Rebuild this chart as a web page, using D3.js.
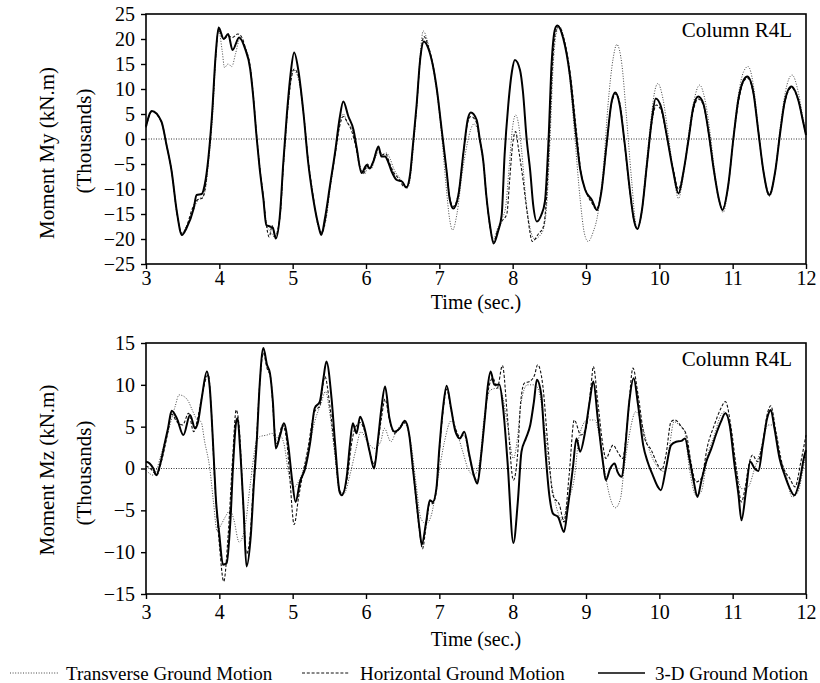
<!DOCTYPE html>
<html><head><meta charset="utf-8">
<script src="https://cdn.jsdelivr.net/npm/d3@7"></script>
<style>
body{margin:0;background:#fff;}
svg{display:block;}
text{font-family:"Liberation Serif","Times New Roman",serif;fill:#000;}
</style></head>
<body><svg id="c" width="820" height="683"></svg>
<script>
// ---------- DATA ----------
const xTicks = [3,4,5,6,7,8,9,10,11,12];
const myTicks = [-25,-20,-15,-10,-5,0,5,10,15,20,25];
const mzTicks = [-15,-10,-5,0,5,10,15];
const seriesNames = ["Transverse Ground Motion","Horizontal Ground Motion","3-D Ground Motion"];

// Moment My (thousands kN.m) vs time (s)
const myTrans = [[3.0,2.5],[3.08,5.5],[3.21,3.5],[3.28,-1.0],[3.35,-6.5],[3.42,-14.8],[3.49,-18.8],[3.55,-17.5],[3.65,-14.0],[3.72,-12.0],[3.78,-11.5],[3.82,-9.0],[3.86,-3.5],[3.91,5.0],[3.95,16.0],[3.99,21.8],[4.04,17.5],[4.07,14.3],[4.12,15.0],[4.17,14.5],[4.22,17.0],[4.28,20.0],[4.35,18.5],[4.42,14.5],[4.46,9.0],[4.51,0.5],[4.55,-5.5],[4.60,-11.5],[4.65,-17.5],[4.70,-18.5],[4.75,-19.6],[4.83,-15.5],[4.87,-6.5],[4.92,3.5],[4.97,11.0],[5.01,13.8],[5.07,12.5],[5.15,5.0],[5.21,-4.0],[5.28,-11.5],[5.35,-17.5],[5.40,-18.5],[5.45,-16.5],[5.51,-10.0],[5.58,-3.0],[5.64,3.0],[5.69,5.0],[5.75,3.1],[5.81,2.0],[5.87,-1.5],[5.93,-6.0],[5.98,-7.0],[6.03,-5.5],[6.07,-6.0],[6.12,-4.0],[6.18,-2.5],[6.23,-3.0],[6.28,-2.8],[6.33,-4.0],[6.38,-6.0],[6.46,-7.8],[6.52,-9.0],[6.57,-9.8],[6.61,-7.0],[6.65,-1.0],[6.70,8.0],[6.74,17.0],[6.78,21.6],[6.84,19.5],[6.91,14.5],[6.97,9.0],[7.03,1.0],[7.09,-9.0],[7.14,-16.0],[7.18,-18.2],[7.24,-15.0],[7.31,-7.0],[7.38,-1.0],[7.43,2.0],[7.47,3.0],[7.52,2.0],[7.56,-1.0],[7.61,-6.0],[7.65,-12.5],[7.70,-18.0],[7.74,-20.0],[7.79,-18.0],[7.85,-16.0],[7.90,-14.0],[7.95,-6.0],[8.00,2.5],[8.04,4.8],[8.08,3.0],[8.12,-2.0],[8.18,-12.0],[8.24,-18.0],[8.30,-20.0],[8.36,-19.5],[8.42,-18.0],[8.47,-12.0],[8.51,0.0],[8.55,14.0],[8.60,21.5],[8.64,22.5],[8.70,20.0],[8.78,12.0],[8.85,0.0],[8.92,-12.0],[8.98,-19.0],[9.03,-20.5],[9.10,-18.5],[9.15,-15.9],[9.24,-5.2],[9.30,6.8],[9.37,16.1],[9.42,18.9],[9.49,14.8],[9.55,4.8],[9.62,-7.9],[9.69,-17.5],[9.74,-16.5],[9.81,-7.0],[9.88,3.0],[9.93,9.0],[9.98,11.1],[10.05,8.0],[10.12,1.0],[10.19,-6.5],[10.26,-11.9],[10.33,-7.0],[10.40,1.0],[10.47,7.5],[10.55,10.8],[10.62,8.0],[10.69,1.5],[10.75,-6.0],[10.82,-12.5],[10.87,-14.7],[10.94,-9.5],[11.01,0.5],[11.08,9.0],[11.15,13.5],[11.21,14.5],[11.28,11.0],[11.35,2.0],[11.42,-6.5],[11.50,-11.5],[11.58,-6.5],[11.65,2.5],[11.72,9.5],[11.81,12.8],[11.90,9.0],[11.96,4.0],[12.0,1.0]];

const myHoriz = [[3.0,2.3],[3.08,5.5],[3.21,3.4],[3.28,-1.2],[3.35,-6.5],[3.42,-14.5],[3.49,-19.0],[3.55,-17.6],[3.63,-14.0],[3.70,-12.2],[3.77,-11.8],[3.81,-9.6],[3.85,-4.2],[3.90,4.5],[3.95,16.3],[3.99,21.8],[4.06,20.0],[4.12,20.6],[4.18,20.3],[4.25,21.0],[4.30,20.5],[4.36,18.0],[4.42,14.5],[4.46,9.2],[4.51,0.5],[4.55,-5.5],[4.60,-11.5],[4.64,-17.0],[4.68,-19.6],[4.72,-17.3],[4.76,-19.4],[4.83,-15.0],[4.87,-6.0],[4.92,4.0],[4.97,11.0],[5.02,14.0],[5.08,12.5],[5.15,4.8],[5.21,-4.0],[5.28,-11.5],[5.35,-17.5],[5.40,-18.8],[5.45,-16.0],[5.51,-9.5],[5.58,-3.0],[5.64,2.5],[5.69,4.5],[5.75,3.2],[5.80,1.8],[5.86,-1.5],[5.92,-5.8],[5.97,-6.8],[6.02,-5.0],[6.06,-5.8],[6.10,-4.3],[6.17,-2.0],[6.21,-3.2],[6.27,-3.0],[6.32,-4.8],[6.37,-6.5],[6.45,-8.0],[6.52,-9.5],[6.56,-9.5],[6.60,-7.5],[6.64,-1.5],[6.69,6.5],[6.74,16.0],[6.79,20.5],[6.85,18.5],[6.92,14.3],[6.97,9.5],[7.03,2.0],[7.10,-6.5],[7.14,-11.5],[7.19,-13.5],[7.26,-11.0],[7.33,-2.5],[7.39,3.5],[7.43,4.5],[7.50,3.5],[7.55,0.0],[7.60,-4.5],[7.64,-11.2],[7.69,-17.5],[7.74,-20.5],[7.79,-18.5],[7.85,-16.5],[7.92,-15.0],[7.96,-8.0],[8.00,-1.0],[8.04,1.5],[8.08,-2.0],[8.14,-8.0],[8.20,-15.0],[8.27,-20.5],[8.35,-19.0],[8.42,-17.5],[8.46,-12.0],[8.50,0.0],[8.54,14.0],[8.58,21.0],[8.63,22.5],[8.70,20.0],[8.79,12.5],[8.87,1.5],[8.93,-6.5],[9.00,-10.5],[9.08,-12.8],[9.14,-14.0],[9.21,-10.5],[9.28,-1.5],[9.35,7.3],[9.41,9.0],[9.47,6.5],[9.53,-1.5],[9.60,-10.8],[9.65,-16.0],[9.70,-18.0],[9.76,-14.5],[9.83,-5.5],[9.90,3.5],[9.96,6.8],[10.03,5.5],[10.10,0.5],[10.19,-6.0],[10.26,-10.0],[10.33,-6.5],[10.40,0.0],[10.46,5.5],[10.53,8.0],[10.60,6.8],[10.67,1.3],[10.74,-6.0],[10.81,-12.0],[10.86,-14.0],[10.94,-9.2],[11.01,0.0],[11.08,7.5],[11.15,11.5],[11.20,12.2],[11.28,9.3],[11.35,1.5],[11.42,-6.5],[11.50,-11.0],[11.58,-6.5],[11.65,1.5],[11.71,7.3],[11.80,10.2],[11.90,7.5],[11.96,3.5],[12.0,0.8]];

const my3D = [[3.0,2.5],[3.08,5.6],[3.21,3.5],[3.28,-1.2],[3.35,-6.5],[3.42,-14.5],[3.49,-19.2],[3.55,-17.9],[3.65,-13.9],[3.69,-11.2],[3.76,-11.0],[3.80,-9.2],[3.85,-3.9],[3.90,4.8],[3.95,16.8],[3.99,22.3],[4.06,20.0],[4.12,21.0],[4.18,17.8],[4.27,20.3],[4.35,18.1],[4.42,14.1],[4.46,8.8],[4.51,0.1],[4.55,-5.9],[4.60,-11.9],[4.64,-17.2],[4.69,-17.5],[4.73,-17.8],[4.77,-19.9],[4.83,-14.5],[4.87,-5.2],[4.92,4.8],[4.97,12.8],[5.02,17.3],[5.08,13.5],[5.15,4.8],[5.21,-4.5],[5.28,-11.9],[5.35,-17.2],[5.39,-19.2],[5.44,-15.9],[5.51,-9.2],[5.58,-2.5],[5.64,4.1],[5.69,7.5],[5.76,4.5],[5.83,1.8],[5.87,-1.5],[5.94,-6.8],[6.01,-5.2],[6.05,-5.9],[6.10,-4.5],[6.17,-1.5],[6.21,-3.5],[6.26,-3.5],[6.30,-4.5],[6.35,-6.5],[6.42,-8.2],[6.49,-8.5],[6.55,-9.7],[6.60,-7.2],[6.64,-1.2],[6.69,6.8],[6.74,16.1],[6.79,19.5],[6.85,18.1],[6.92,14.1],[6.97,9.5],[7.03,2.1],[7.10,-6.5],[7.14,-11.9],[7.19,-13.9],[7.26,-11.2],[7.33,-2.5],[7.39,4.1],[7.43,5.3],[7.51,3.8],[7.55,0.1],[7.60,-4.5],[7.64,-11.2],[7.69,-17.2],[7.74,-20.9],[7.80,-18.5],[7.85,-15.2],[7.89,-3.2],[7.94,6.8],[7.99,13.5],[8.03,15.8],[8.10,13.8],[8.14,9.5],[8.19,0.1],[8.24,-6.5],[8.28,-13.2],[8.33,-16.5],[8.39,-15.2],[8.44,-12.5],[8.49,0.1],[8.53,14.8],[8.58,22.1],[8.61,22.7],[8.69,20.1],[8.78,12.8],[8.86,1.5],[8.92,-6.0],[8.99,-10.2],[9.08,-12.2],[9.15,-14.2],[9.21,-10.5],[9.28,-1.2],[9.35,7.5],[9.40,9.3],[9.46,6.8],[9.53,-1.2],[9.60,-10.5],[9.65,-15.9],[9.70,-18.0],[9.76,-14.5],[9.83,-5.2],[9.90,4.1],[9.95,8.1],[10.03,6.1],[10.10,0.8],[10.19,-6.5],[10.26,-10.9],[10.33,-6.5],[10.40,0.1],[10.46,6.1],[10.53,8.5],[10.60,7.1],[10.67,1.5],[10.74,-5.9],[10.81,-11.9],[10.86,-14.2],[10.94,-9.2],[11.01,0.1],[11.08,8.1],[11.15,11.8],[11.20,12.5],[11.28,9.5],[11.35,1.5],[11.42,-6.5],[11.50,-11.2],[11.58,-6.5],[11.65,1.5],[11.71,7.5],[11.80,10.5],[11.90,7.5],[11.96,3.5],[12.0,0.8]];

// Moment Mz (thousands kN.m) vs time (s)
const mzTrans = [[3.0,-0.2],[3.1,-0.8],[3.15,0.0],[3.2,1.5],[3.3,4.4],[3.4,7.5],[3.45,8.8],[3.52,8.6],[3.58,8.0],[3.63,7.0],[3.70,5.8],[3.75,5.6],[3.80,3.2],[3.87,0.0],[3.92,-4.0],[3.97,-7.5],[4.02,-6.8],[4.08,-5.8],[4.15,-5.0],[4.20,-6.2],[4.27,-8.8],[4.35,-7.0],[4.42,-2.0],[4.50,3.0],[4.55,3.8],[4.65,4.0],[4.72,4.2],[4.77,3.6],[4.82,4.0],[4.88,3.0],[4.95,-0.8],[5.02,-2.2],[5.10,-1.2],[5.20,1.5],[5.30,5.6],[5.38,7.6],[5.45,9.2],[5.50,7.0],[5.57,2.0],[5.64,-2.8],[5.70,-3.0],[5.78,-0.8],[5.86,2.2],[5.93,4.4],[6.02,3.2],[6.11,2.4],[6.20,3.2],[6.25,4.8],[6.34,3.2],[6.41,4.4],[6.52,5.4],[6.61,3.2],[6.68,-1.6],[6.75,-6.0],[6.82,-6.6],[6.89,-5.6],[6.98,-1.2],[7.07,3.2],[7.16,5.7],[7.25,4.0],[7.32,2.0],[7.39,0.0],[7.47,-0.8],[7.55,0.8],[7.61,6.0],[7.70,9.4],[7.80,9.6],[7.85,9.0],[7.93,5.2],[8.01,1.2],[8.07,4.0],[8.11,7.6],[8.20,10.0],[8.30,10.0],[8.36,9.2],[8.43,5.2],[8.50,0.0],[8.59,-4.4],[8.68,-6.2],[8.75,-4.0],[8.84,-1.2],[8.91,4.0],[9.02,5.8],[9.12,5.8],[9.18,4.0],[9.25,0.0],[9.32,-3.2],[9.40,-4.7],[9.47,-3.6],[9.52,0.0],[9.59,4.0],[9.68,6.8],[9.75,5.6],[9.84,2.8],[9.93,0.8],[10.0,0.0],[10.07,-0.4],[10.14,2.8],[10.20,5.6],[10.27,5.2],[10.34,4.6],[10.41,0.0],[10.50,-3.2],[10.57,-2.8],[10.66,1.6],[10.75,4.0],[10.84,6.4],[10.89,6.8],[10.98,4.0],[11.05,0.0],[11.12,-2.4],[11.21,-2.2],[11.30,0.0],[11.39,2.4],[11.48,5.2],[11.55,5.2],[11.64,1.6],[11.73,-0.8],[11.81,-3.4],[11.89,-2.8],[11.98,0.8],[12.0,1.5]];

const mzHoriz = [[3.0,0.3],[3.06,0.0],[3.11,-0.5],[3.15,-0.8],[3.2,0.5],[3.3,4.4],[3.35,6.5],[3.42,5.6],[3.5,5.2],[3.58,6.6],[3.65,4.4],[3.70,5.8],[3.76,8.5],[3.82,10.8],[3.85,11.2],[3.89,7.0],[3.94,-2.0],[4.0,-9.0],[4.06,-13.5],[4.12,-8.0],[4.18,1.0],[4.23,7.0],[4.27,5.0],[4.33,-5.0],[4.37,-10.2],[4.42,-8.0],[4.47,-1.0],[4.51,4.0],[4.55,10.0],[4.60,13.8],[4.65,12.0],[4.70,10.8],[4.75,5.0],[4.78,3.0],[4.82,4.0],[4.86,5.2],[4.92,3.2],[4.96,-1.0],[5.02,-6.7],[5.08,-3.5],[5.12,-1.5],[5.20,2.0],[5.30,6.8],[5.37,7.5],[5.44,11.0],[5.50,8.0],[5.57,2.5],[5.64,-2.6],[5.67,-3.0],[5.75,-0.8],[5.80,2.8],[5.85,4.8],[5.92,5.5],[5.98,4.5],[6.05,2.0],[6.11,0.5],[6.16,3.0],[6.21,6.0],[6.26,8.3],[6.32,5.8],[6.39,4.2],[6.46,4.8],[6.53,5.5],[6.59,4.0],[6.64,0.0],[6.68,-3.5],[6.73,-7.5],[6.77,-9.6],[6.82,-6.8],[6.87,-4.2],[6.91,-4.2],[6.96,-2.6],[7.00,2.0],[7.05,6.8],[7.10,9.5],[7.16,7.0],[7.22,4.8],[7.28,3.8],[7.34,4.0],[7.41,1.4],[7.47,-0.8],[7.52,-1.5],[7.57,1.5],[7.62,6.0],[7.67,9.5],[7.73,10.8],[7.79,9.6],[7.86,12.3],[7.93,6.0],[8.01,-1.4],[8.07,2.0],[8.11,8.0],[8.16,10.2],[8.23,10.4],[8.30,11.2],[8.34,12.4],[8.41,10.0],[8.48,2.8],[8.55,-3.2],[8.64,-4.4],[8.70,-6.4],[8.77,-0.8],[8.84,5.8],[8.93,4.0],[9.00,4.8],[9.07,10.0],[9.10,12.2],[9.16,8.0],[9.23,2.8],[9.27,1.2],[9.37,2.8],[9.43,2.0],[9.50,1.2],[9.57,6.0],[9.64,12.0],[9.71,8.8],[9.80,3.6],[9.89,2.2],[9.98,0.4],[10.03,-0.2],[10.09,1.6],[10.16,5.6],[10.21,5.8],[10.30,5.0],[10.37,4.0],[10.43,0.8],[10.50,-1.6],[10.57,-1.2],[10.66,2.8],[10.75,5.2],[10.84,7.2],[10.90,8.0],[10.98,4.8],[11.05,0.0],[11.12,-4.0],[11.16,-2.8],[11.23,0.8],[11.27,1.6],[11.34,0.8],[11.41,3.2],[11.48,6.8],[11.52,7.5],[11.59,4.4],[11.68,0.4],[11.78,-1.2],[11.85,-2.2],[11.93,0.8],[12.0,4.0]];

const mz3D = [[3.0,0.8],[3.05,0.6],[3.1,0.0],[3.14,-0.8],[3.19,0.4],[3.26,3.2],[3.30,4.8],[3.35,6.9],[3.42,6.0],[3.51,4.0],[3.60,6.4],[3.67,4.8],[3.71,5.6],[3.76,8.4],[3.83,11.6],[3.87,9.6],[3.92,2.0],[3.95,-3.2],[4.00,-7.9],[4.05,-11.5],[4.10,-11.3],[4.15,-6.4],[4.19,0.8],[4.23,5.6],[4.25,6.0],[4.28,2.8],[4.33,-4.8],[4.37,-11.7],[4.43,-7.9],[4.47,-2.0],[4.51,3.2],[4.55,10.0],[4.60,14.4],[4.65,12.4],[4.69,11.4],[4.73,8.0],[4.77,2.4],[4.83,4.0],[4.88,5.4],[4.94,2.8],[4.99,-1.2],[5.04,-4.0],[5.10,-1.6],[5.17,0.0],[5.24,3.2],[5.30,7.2],[5.37,8.0],[5.42,10.8],[5.46,12.8],[5.53,8.4],[5.58,2.8],[5.64,-2.8],[5.67,-3.2],[5.74,-0.8],[5.78,2.8],[5.82,5.4],[5.87,4.2],[5.92,6.2],[5.98,4.8],[6.05,2.0],[6.11,0.0],[6.16,3.2],[6.21,7.2],[6.26,9.8],[6.32,6.0],[6.39,4.4],[6.46,4.8],[6.53,5.7],[6.59,4.0],[6.64,0.0],[6.68,-3.2],[6.73,-7.2],[6.76,-9.1],[6.82,-6.4],[6.87,-3.8],[6.91,-4.0],[6.96,-2.4],[7.00,2.4],[7.05,7.2],[7.10,9.9],[7.16,7.2],[7.22,4.4],[7.28,3.6],[7.34,4.4],[7.41,1.6],[7.47,-0.8],[7.52,-1.8],[7.57,1.6],[7.62,6.0],[7.66,9.8],[7.70,11.6],[7.75,10.0],[7.82,10.0],[7.87,7.2],[7.93,0.8],[8.01,-8.9],[8.07,-4.0],[8.12,2.0],[8.18,3.6],[8.24,5.2],[8.29,8.0],[8.33,10.6],[8.39,8.8],[8.43,4.0],[8.50,-3.2],[8.55,-5.4],[8.62,-5.8],[8.70,-7.6],[8.75,-4.8],[8.82,0.0],[8.87,3.6],[8.92,2.0],[8.98,4.0],[9.05,8.0],[9.10,10.4],[9.16,6.0],[9.23,0.8],[9.27,-1.4],[9.33,0.0],[9.39,0.6],[9.43,-0.4],[9.49,-1.0],[9.53,2.0],[9.59,8.0],[9.65,10.8],[9.71,7.6],[9.78,2.8],[9.84,0.8],[9.91,-0.8],[9.98,-2.2],[10.02,-2.6],[10.09,0.0],[10.16,2.8],[10.23,3.2],[10.30,3.3],[10.35,3.6],[10.41,1.2],[10.47,-1.6],[10.52,-3.4],[10.57,-1.6],[10.64,0.8],[10.71,2.4],[10.77,4.0],[10.84,5.6],[10.90,6.6],[10.96,5.2],[11.02,0.8],[11.08,-3.2],[11.12,-6.2],[11.18,-2.8],[11.24,0.8],[11.30,0.0],[11.35,-0.3],[11.41,2.8],[11.47,6.0],[11.52,7.0],[11.57,4.8],[11.64,1.2],[11.71,-0.8],[11.78,-2.4],[11.84,-3.2],[11.91,-1.6],[11.98,1.6],[12.0,2.2]];

// ---------- DRAW ----------
const svg = d3.select("#c");
const X0 = 146, X1 = 806;
const styles = [
  {stroke:"#444", width:1.0, dash:"1,1.6"},
  {stroke:"#111", width:1.1, dash:"3,1.8"},
  {stroke:"#000", width:2.0, dash:null}
];

function panel(cfg){
  const x = d3.scaleLinear().domain([3,12]).range([X0,X1]);
  const y = d3.scaleLinear().domain(cfg.domain).range([cfg.y1,cfg.y0]);
  const g = svg.append("g");
  // zero line
  g.append("line").attr("x1",X0).attr("x2",X1).attr("y1",y(0)).attr("y2",y(0))
    .attr("stroke","#333").attr("stroke-width",1).attr("stroke-dasharray","1,1.5");
  const line = d3.line().x(d=>x(d[0])).y(d=>y(d[1])).curve(d3.curveMonotoneX);
  cfg.series.forEach((s,i)=>{
    g.append("path").datum(s).attr("d",line).attr("fill","none")
      .attr("stroke",styles[i].stroke).attr("stroke-width",styles[i].width)
      .attr("stroke-dasharray",styles[i].dash).attr("stroke-linejoin","round");
  });
  // frame
  g.append("rect").attr("x",X0).attr("y",cfg.y0).attr("width",X1-X0).attr("height",cfg.y1-cfg.y0)
    .attr("fill","none").attr("stroke","#000").attr("stroke-width",1.6);
  // axes
  const ya = g.append("g").attr("transform",`translate(${X0},0)`)
    .call(d3.axisLeft(y).tickValues(cfg.ticks).tickSize(5).tickPadding(6).tickFormat(d3.format("d")));
  ya.select(".domain").remove();
  ya.selectAll("line").attr("stroke-width",1.4);
  ya.selectAll("text").style("font-size","20px");
  const xa = g.append("g").attr("transform",`translate(0,${cfg.y1})`)
    .call(d3.axisBottom(x).tickValues(xTicks).tickSize(5).tickPadding(cfg.xpad).tickFormat(d3.format("d")));
  xa.select(".domain").remove();
  xa.selectAll("line").attr("stroke-width",1.4);
  xa.selectAll("text").style("font-size","20px");
  // titles
  g.append("text").attr("x",(X0+X1)/2).attr("y",cfg.timeY).attr("text-anchor","middle")
    .attr("dominant-baseline","central").style("font-size","20px").text("Time (sec.)");
  g.append("text").attr("transform",`translate(47,${cfg.t1y}) rotate(-90)`).attr("text-anchor","middle")
    .attr("dominant-baseline","central").style("font-size","21px").text(cfg.title);
  g.append("text").attr("transform",`translate(84,${cfg.t2y}) rotate(-90)`).attr("text-anchor","middle")
    .attr("dominant-baseline","central").style("font-size","21px").text("(Thousands)");
  g.append("text").attr("x",792).attr("y",cfg.y0+16).attr("text-anchor","end")
    .attr("dominant-baseline","central").style("font-size","21px").text("Column R4L");
}

panel({domain:[-25,25], y0:14, y1:264, ticks:myTicks, series:[myTrans,myHoriz,my3D],
  xpad:2, timeY:302, title:"Moment My (kN.m)", t1y:153, t2y:141});
panel({domain:[-15,15], y0:343, y1:594, ticks:mzTicks, series:[mzTrans,mzHoriz,mz3D],
  xpad:6, timeY:639, title:"Moment Mz (kN.m)", t1y:470, t2y:473});

// legend
const legY = 673;
const legItems = [{x1:10,x2:58,tx:66},{x1:302,x2:350,tx:360},{x1:598,x2:645,tx:655}];
legItems.forEach((it,i)=>{
  svg.append("line").attr("x1",it.x1).attr("x2",it.x2).attr("y1",legY).attr("y2",legY)
    .attr("stroke",styles[i].stroke).attr("stroke-width",styles[i].width===2?1.6:1)
    .attr("stroke-dasharray",styles[i].dash);
  svg.append("text").attr("x",it.tx).attr("y",legY).attr("dominant-baseline","central")
    .style("font-size","19px").text(seriesNames[i]);
});
</script></body></html>
